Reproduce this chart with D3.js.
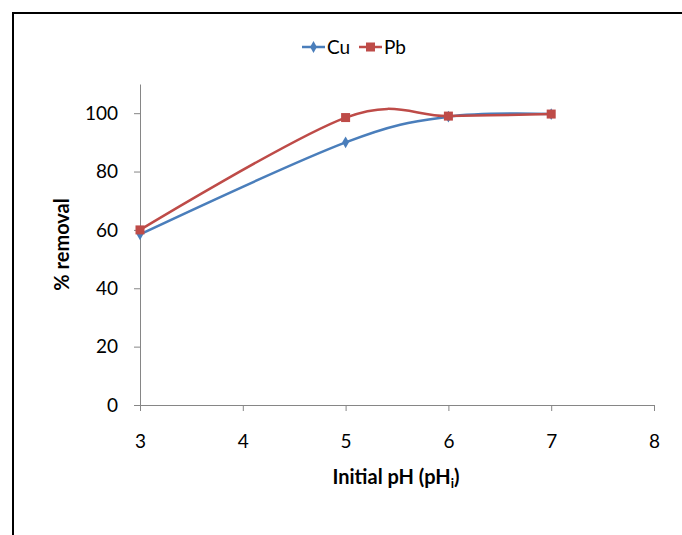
<!DOCTYPE html>
<html>
<head>
<meta charset="utf-8">
<script src="https://cdn.jsdelivr.net/npm/d3@7"></script>
<style>
  body { margin: 0; background: #fff; }
  text { font-family: Lato, "Open Sans", sans-serif; fill: #000; }
</style>
</head>
<body>
<svg id="chart" width="682" height="535"></svg>
<script>
var width = 682, height = 535;

// data
var phValues = [3, 5, 6, 7];
var cuRemoval = [58.5, 90, 98.8, 99.7];
var pbRemoval = [60, 98.5, 99, 99.7];
var xTicks = [3, 4, 5, 6, 7, 8];
var yTicks = [0, 20, 40, 60, 80, 100];

var svg = d3.select("#chart");

// outer frame (runs off the right and bottom edge)
svg.append("rect")
    .attr("x", 13)
    .attr("y", 13)
    .attr("width", 700)
    .attr("height", 560)
    .attr("fill", "none")
    .attr("stroke", "#000")
    .attr("stroke-width", 2);

var x = d3.scaleLinear().domain([3, 8]).range([140, 654]);
var y = d3.scaleLinear().domain([0, 110]).range([405, 84]);

// axes
var xAxis = svg.append("g")
    .attr("transform", `translate(0, ${y(0)})`)
    .call(d3.axisBottom(x).tickValues(xTicks).tickFormat(d3.format("d"))
      .tickSize(6).tickSizeOuter(0).tickPadding(24));

var yAxis = svg.append("g")
    .attr("transform", `translate(${x(3)}, 0)`)
    .call(d3.axisLeft(y).tickValues(yTicks).tickFormat(d3.format("d"))
      .tickSize(6).tickSizeOuter(0).tickPadding(16));

[xAxis, yAxis].forEach(g => {
  g.select(".domain").attr("stroke", "#868686");
  g.selectAll(".tick line").attr("stroke", "#868686");
  g.selectAll(".tick text").style("font-size", "19px").attr("fill", "#000");
});

// series
var series = [
  { name: "Cu", values: cuRemoval, color: "#4a7ebb", marker: "diamond" },
  { name: "Pb", values: pbRemoval, color: "#be4b48", marker: "square" }
];

var line = d3.line()
    .x(d => x(d[0]))
    .y(d => y(d[1]))
    .curve(d3.curveCatmullRom.alpha(0));

function drawMarker(g, type, cx, cy, color) {
  if (type === "diamond") {
    g.append("path")
        .attr("d", d3.symbol(d3.symbolDiamond, 40)())
        .attr("transform", `translate(${cx}, ${cy})`)
        .attr("fill", color);
  } else {
    g.append("rect")
        .attr("x", cx - 4.5)
        .attr("y", cy - 4.5)
        .attr("width", 9)
        .attr("height", 9)
        .attr("fill", color);
  }
}

series.forEach(s => {
  var pts = phValues.map((p, i) => [p, s.values[i]]);
  var g = svg.append("g");
  g.append("path")
      .attr("d", line(pts))
      .attr("fill", "none")
      .attr("stroke", s.color)
      .attr("stroke-width", 2.5);
  pts.forEach(p => drawMarker(g, s.marker, x(p[0]), y(p[1]), s.color));
});

// legend
var legend = svg.append("g").attr("transform", "translate(302, 47)");
series.forEach((s, i) => {
  var lg = legend.append("g").attr("transform", `translate(${i * 57}, 0)`);
  lg.append("line")
      .attr("x1", 0).attr("x2", 23)
      .attr("stroke", s.color)
      .attr("stroke-width", 2.5);
  drawMarker(lg, s.marker, 11.5, 0, s.color);
  lg.append("text")
      .attr("x", 25)
      .attr("y", 7)
      .style("font-size", "19px")
      .text(s.name);
});

// axis titles
svg.append("text")
    .attr("transform", `translate(69, ${y(55)}) rotate(-90)`)
    .attr("text-anchor", "middle")
    .style("font-size", "20px")
    .style("font-weight", "bold")
    .text("% removal");

var xTitle = svg.append("text")
    .attr("x", 396)
    .attr("y", 484)
    .attr("text-anchor", "middle")
    .style("font-size", "20px")
    .style("font-weight", "bold");
xTitle.append("tspan").text("Initial pH (pH");
xTitle.append("tspan").attr("dy", 4).style("font-size", "13px").text("i");
xTitle.append("tspan").attr("dy", -4).text(")");
</script>
</body>
</html>
